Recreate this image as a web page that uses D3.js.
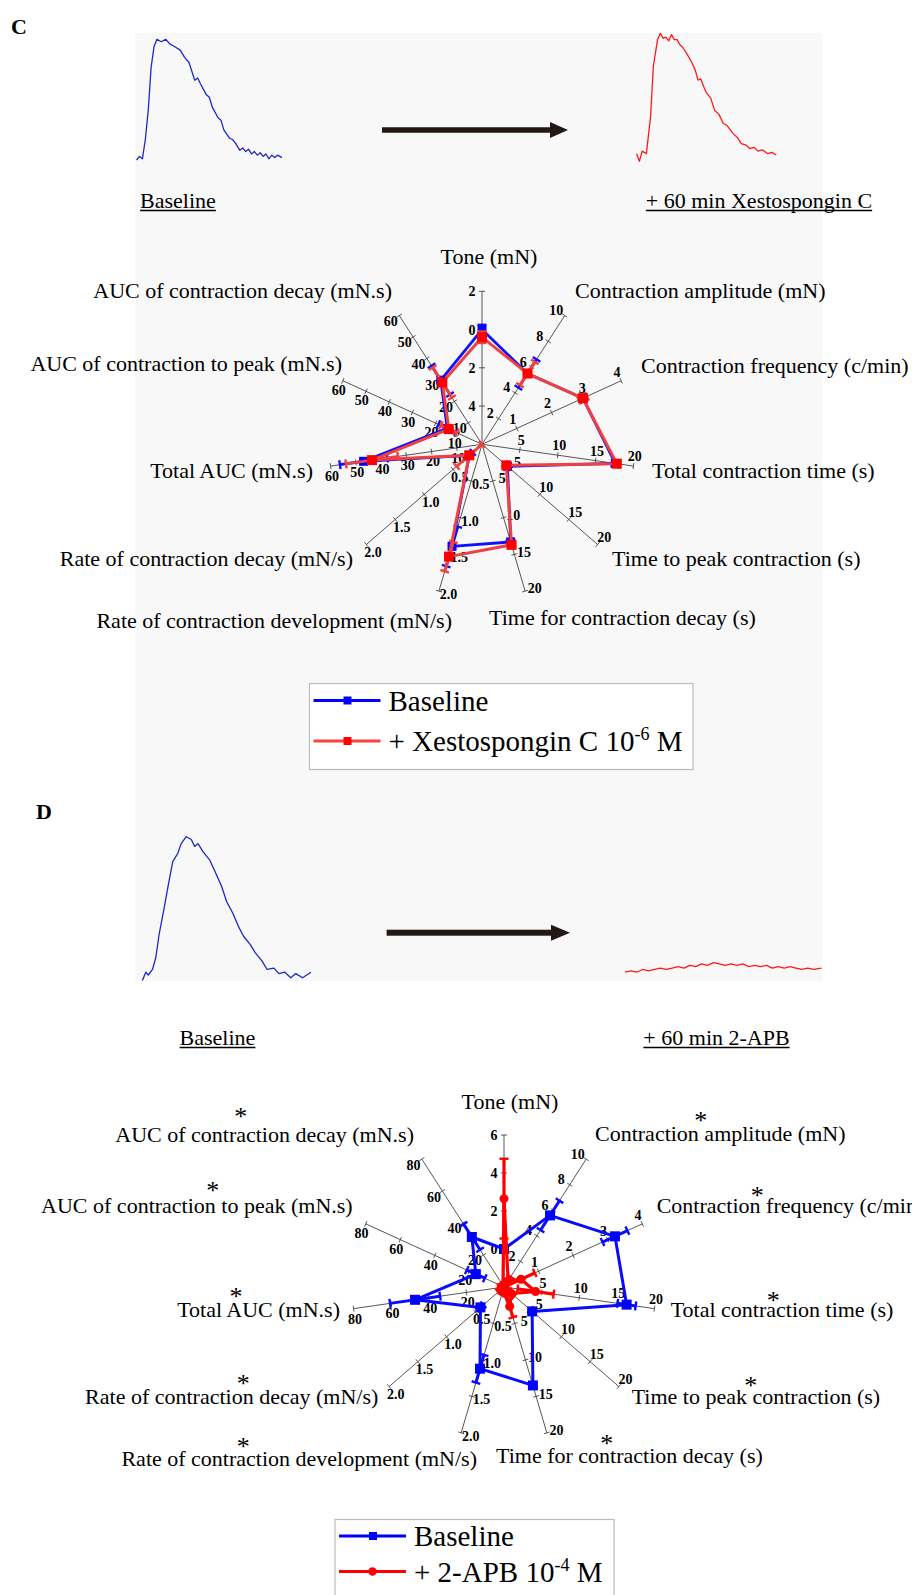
<!DOCTYPE html>
<html><head><meta charset="utf-8">
<script src="https://cdn.jsdelivr.net/npm/d3@7"></script>
<style>
body{margin:0;background:#fff;}
text{font-family:"Liberation Serif","Times New Roman",serif;fill:#000;}
</style>
</head><body>
<svg id="fig" width="912" height="1595"></svg>
<script>
// ---------------- DATA ----------------
const axisNames = ["Tone (mN)","Contraction amplitude (mN)","Contraction frequency (c/min)",
  "Total contraction time (s)","Time to peak contraction (s)","Time for contraction decay (s)",
  "Rate of contraction development (mN/s)","Rate of contraction decay (mN/s)","Total AUC (mN.s)",
  "AUC of contraction to peak (mN.s)","AUC of contraction decay (mN.s)"];

// Panel C axes (value at centre -> value at outer end)
const cDomains = [[6,-2],[0,10],[0,4],[0,20],[0,20],[0,20],[0,2],[0,2],[0,60],[0,60],[0,60]];
const cTicks = [[4,2,0,-2],[2,4,6,8,10],[1,2,3,4],[5,10,15,20],[5,10,15,20],[5,10,15,20],
  [0.5,1,1.5,2],[0.5,1,1.5,2],[10,20,30,40,50,60],[10,20,30,40,50,60],[10,20,30,40,50,60]];
const cTickLabels = [["4","2","0","2"],["2","4","6","8","10"],["1","2","3","4"],["5","10","15","20"],
  ["5","10","15","20"],["5","10","15","20"],["0.5","1.0","1.5","2.0"],["0.5","1.0","1.5","2.0"],
  ["10","20","30","40","50","60"],["10","20","30","40","50","60"],["10","20","30","40","50","60"]];
const cBaseline    = [0.0, 5.5, 2.9, 17.6, 4.4, 13.3, 1.39, 0.22, 46.9, 15.0, 29.9];
const cBaselineErr = [0.25, 1.1, 0.1, 0.4, 0.3, 0.3, 0.27, 0.06, 9.4, 3.8, 6.7];
const cXesto       = [0.4, 5.5, 2.9, 17.8, 4.2, 13.7, 1.53, 0.22, 43.6, 14.3, 28.8];
const cXestoErr    = [0.3, 0.9, 0.12, 0.4, 0.3, 0.3, 0.2, 0.22, 10.3, 3.5, 7.0];

// Panel D axes
const dDomains = [[-2,6],[0,10],[0,4],[0,20],[0,20],[0,20],[0,2],[0,2],[0,80],[0,80],[0,80]];
const dTicks = [[0,2,4,6],[2,4,6,8,10],[1,2,3,4],[5,10,15,20],[5,10,15,20],[5,10,15,20],
  [0.5,1,1.5,2],[0.5,1,1.5,2],[20,40,60,80],[20,40,60,80],[20,40,60,80]];
const dTickLabels = [["0","2","4","6"],["2","4","6","8","10"],["1","2","3","4"],["5","10","15","20"],
  ["5","10","15","20"],["5","10","15","20"],["0.5","1.0","1.5","2.0"],["0.5","1.0","1.5","2.0"],
  ["20","40","60","80"],["20","40","60","80"],["20","40","60","80"]];
const dBaseline    = [0.0, 5.6, 3.21, 16.3, 4.9, 13.5, 1.12, 0.41, 47.3, 16.3, 31.3];
const dBaselineErr = [0.2, 1.15, 0.36, 1.2, 0.3, 0.3, 0.19, 0.05, 13.3, 5.2, 8.0];
const dAPB         = [2.65, 0.5, 0.49, 4.2, 1.3, 2.65, 0.05, 0.05, 1.5, 1.0, 1.0];
const dAPBErr      = [2.1, 0.3, 0.4, 2.4, 0.5, 1.5, 0.05, 0.05, 1.5, 1.0, 1.0];

// Example force traces (time in % of window, force in % of baseline peak)
const cBaseTraceT = [0,2,4,6,8,10,12,14,17,20,23,26,30,33,36,40,42,44,48,50,52,56,58,60,64,66,68,71,73,75,77,79,81,83,85,87,89,91,93,95,97,100];
const cBaseTraceV = [0,3,1,17,41,77,94,100,98,100,96,94,91,85,81,66,68,63,54,52,44,35,33,25,18,17,14,8,10,7,9,5,7,4,6,3,5,1,4,2,4,2];
const cXestoTraceT = [0,2,4,7,10,12,15,17,19,21,23,25,27,29,31,33,36,40,42,44,46,48,50,53,56,59,62,65,69,72,75,78,81,84,87,90,94,97,100];
const cXestoTraceV = [5,-1,7,5,34,74,95,100,96,97,94,99,95,95,91,89,84,76,71,63,64,58,53,49,39,36,29,27,21,18,13,12,9,10,7,8,5,6,4];
const dBaseTraceT = [0,2,3.5,6,8,10,13,15.5,18,21,23,26,29,31,33,36,40,43,47,50,53.5,57,60,64,67,71,74,78,81,84.5,88,91,95,100];
const dBaseTraceV = [-4,2,0,4,13,30,49,66,82,88,95,100,98,93,95,89,83,75,64,53,45,35,28,22,16,10,4,5,1,2,-2,1,-2,2];
const dAPBTraceT = [0,3,6,9,12,15,18,21,24,27,30,33,36,39,42,45,48,51,54,57,60,63,66,69,72,75,78,81,84,87,90,93,96,100];
const dAPBTraceV = [2,3,2,4,3,4,5,4,5,6,5,7,6,8,7,9,8,7,8,7,8,6,7,6,7,5,6,5,6,5,4,5,4,5];

// ---------------- DRAWING ----------------
const svg = d3.select("#fig");
svg.append("rect").attr("x",135).attr("y",33).attr("width",687).attr("height",948).attr("fill","#f8f8f8");

function drawTrace(tArr, vArr, box, color){
  const x = d3.scaleLinear().domain([0,100]).range([box.x0, box.x1]);
  const y = d3.scaleLinear().domain([0,100]).range([box.yb, box.yt]);
  const line = d3.line().x((d,i)=>x(tArr[i])).y((d,i)=>y(vArr[i]));
  svg.append("path").attr("d", line(vArr)).attr("fill","none").attr("stroke",color)
    .attr("stroke-width",1.3).attr("stroke-linejoin","round");
}
function drawArrow(x0,x1,y,th,hw,hl){
  svg.append("rect").attr("x",x0).attr("y",y-th/2).attr("width",x1-hl-x0+1).attr("height",th).attr("fill","#231815");
  svg.append("path").attr("d",`M${x1-hl},${y-hw}L${x1},${y}L${x1-hl},${y+hw}Z`).attr("fill","#231815");
}
function underlined(x,y,txt,size){
  const t = svg.append("text").attr("x",x).attr("y",y).attr("text-anchor","middle")
    .style("font-size",size+"px").text(txt);
  const bb = t.node().getBBox();
  svg.append("line").attr("x1",bb.x).attr("x2",bb.x+bb.width).attr("y1",y+2.5).attr("y2",y+2.5)
    .attr("stroke","#000").attr("stroke-width",1.3);
}

function radar(cx, cy, R, domains, ticks, tickLabels, series){
  const g = svg.append("g");
  const n = domains.length;
  const ang = i => i*2*Math.PI/n;
  const scales = domains.map(d => d3.scaleLinear().domain(d).range([0,R]).clamp(true));
  const pt = (i,v) => { const r = scales[i](v), a = ang(i); return [cx + r*Math.sin(a), cy - r*Math.cos(a)]; };
  for(let i=0;i<n;i++){
    const a = ang(i), end = pt(i, domains[i][1]);
    g.append("line").attr("x1",cx).attr("y1",cy).attr("x2",end[0]).attr("y2",end[1])
      .attr("stroke","#444").attr("stroke-width",0.9);
    const px = Math.cos(a), py = Math.sin(a);
    ticks[i].forEach((t,k)=>{
      const p = pt(i,t);
      g.append("line").attr("x1",p[0]-3*px).attr("y1",p[1]-3*py).attr("x2",p[0]+3*px).attr("y2",p[1]+3*py)
        .attr("stroke","#444").attr("stroke-width",0.9);
      g.append("text").attr("x",p[0]-10*px).attr("y",p[1]-10*py+5).attr("text-anchor","middle")
        .style("font-size","14px").style("font-weight","bold").text(tickLabels[i][k]);
    });
  }
  series.forEach(s=>{
    const pts = s.values.map((v,i)=>pt(i,v));
    g.append("path").attr("d", d3.line().curve(d3.curveLinearClosed)(pts)).attr("fill","none")
      .attr("stroke",s.lineColor).attr("stroke-width",s.lw).attr("stroke-linejoin","round");
    s.values.forEach((v,i)=>{
      const a = ang(i), px = Math.cos(a), py = Math.sin(a);
      const dir = domains[i][1]>domains[i][0]?1:-1;
      const lo = pt(i, v - dir*s.errors[i]);
      const hi = pt(i, v + dir*s.errors[i]);
      g.append("line").attr("x1",lo[0]).attr("y1",lo[1]).attr("x2",hi[0]).attr("y2",hi[1])
        .attr("stroke",s.lineColor).attr("stroke-width",s.lw);
      [lo,hi].forEach(p=>{
        g.append("line").attr("x1",p[0]-4.5*px).attr("y1",p[1]-4.5*py).attr("x2",p[0]+4.5*px).attr("y2",p[1]+4.5*py)
          .attr("stroke",s.lineColor).attr("stroke-width",2.4);
      });
    });
    pts.forEach(p=>{
      if(s.marker==="square"){
        g.append("rect").attr("x",p[0]-s.ms/2).attr("y",p[1]-s.ms/2).attr("width",s.ms).attr("height",s.ms).attr("fill",s.color);
      } else {
        g.append("circle").attr("cx",p[0]).attr("cy",p[1]).attr("r",s.ms/2).attr("fill",s.color);
      }
    });
  });
}

function axisLabels(layout){
  layout.forEach((L,i)=>{
    svg.append("text").attr("x",L[0]).attr("y",L[1]+7).attr("text-anchor",L[2])
      .style("font-size","22px").text(axisNames[i]);
    if(L[3]!==undefined){
      svg.append("text").attr("x",L[3]).attr("y",L[4]+12).attr("text-anchor","middle")
        .style("font-size","26px").text("*");
    }
  });
}

function legend(x,y,w,h,rows){
  svg.append("rect").attr("x",x).attr("y",y).attr("width",w).attr("height",h).attr("fill","#fff")
    .attr("stroke","#bbb").attr("stroke-width",1.2);
  rows.forEach(r=>{
    svg.append("line").attr("x1",x+4).attr("x2",x+71).attr("y1",r.y).attr("y2",r.y)
      .attr("stroke",r.lineColor).attr("stroke-width",3);
    if(r.marker==="square") svg.append("rect").attr("x",x+34).attr("y",r.y-4).attr("width",8).attr("height",8).attr("fill",r.color);
    else svg.append("circle").attr("cx",x+37.5).attr("cy",r.y).attr("r",4.2).attr("fill",r.color);
    const t = svg.append("text").attr("x",x+79).attr("y",r.y+10).style("font-size","29px");
    r.parts.forEach(p=>{
      if(p.sup) t.append("tspan").attr("dy",-11).style("font-size","18px").text(p.t);
      else if(p.after) t.append("tspan").attr("dy",11).text(p.t);
      else t.append("tspan").text(p.t);
    });
  });
}

// ---- Panel C ----
svg.append("text").attr("x",11).attr("y",34).style("font-size","22px").style("font-weight","bold").text("C");
drawTrace(cBaseTraceT, cBaseTraceV, {x0:136.6,x1:282,yb:160,yt:39.3}, "#1c28c8");
drawTrace(cXestoTraceT, cXestoTraceV, {x0:636.6,x1:776.2,yb:160,yt:33.3}, "#ff1a1a");
drawArrow(382,568,130,5.5,8,18);
underlined(178,208,"Baseline",22);
underlined(759,208,"+ 60 min Xestospongin C",22);

radar(482, 444.3, 153, cDomains, cTicks, cTickLabels, [
  {values:cBaseline, errors:cBaselineErr, color:"#0000ff", lineColor:"#1010ff", lw:2.8, marker:"square", ms:9},
  {values:cXesto, errors:cXestoErr, color:"#ff0000", lineColor:"#f04040", lw:3, marker:"square", ms:10}
]);
axisLabels([
  [489,257,"middle"],[575,291,"start"],[641,366,"start"],[652,471,"start"],[612,559,"start"],
  [489,618,"start"],[452,621,"end"],[353,559,"end"],[313,471,"end"],[342,364,"end"],[392,291,"end"]
]);
legend(309.5,683.5,383.5,86,[
  {y:700.5,color:"#0000ff",lineColor:"#0000ff",marker:"square",parts:[{t:"Baseline"}]},
  {y:741,color:"#ff0000",lineColor:"#ff4040",marker:"square",parts:[{t:"+ Xestospongin C 10"},{t:"-6",sup:true},{t:" M",after:true}]}
]);

// ---- Panel D ----
svg.append("text").attr("x",36).attr("y",819).style("font-size","22px").style("font-weight","bold").text("D");
drawTrace(dBaseTraceT, dBaseTraceV, {x0:142.4,x1:311,yb:975,yt:836.7}, "#1c28c8");
drawTrace(dAPBTraceT, dAPBTraceV, {x0:625,x1:821.5,yb:975,yt:836.7}, "#ff1a1a");
drawArrow(386.6,570,932.7,6,8,19);
underlined(217.5,1045,"Baseline",22);
underlined(716.5,1045,"+ 60 min 2-APB",22);

radar(504, 1287, 152, dDomains, dTicks, dTickLabels, [
  {values:dBaseline, errors:dBaselineErr, color:"#0000ff", lineColor:"#0a0aff", lw:3, marker:"square", ms:10},
  {values:dAPB, errors:dAPBErr, color:"#ff0000", lineColor:"#ff0000", lw:3.2, marker:"circle", ms:9}
]);
axisLabels([
  [510,1102,"middle"],
  [595,1134,"start",700.7,1117],[656.7,1206,"start",757.3,1191.7],[670.7,1310,"start",773.3,1296.7],
  [631.7,1397,"start",750.7,1381.7],[496,1456,"start",606.7,1440],[477,1459,"end",243.3,1443.3],
  [378.3,1397,"end",243.3,1380],[340,1310,"end",236,1293.3],[352.7,1206,"end",212.7,1187.3],
  [414,1135,"end",240.7,1113.3]
]);
legend(335,1519.5,279,85,[
  {y:1536,color:"#0000ff",lineColor:"#0000ff",marker:"square",parts:[{t:"Baseline"}]},
  {y:1571.5,color:"#ff0000",lineColor:"#ff0000",marker:"circle",parts:[{t:"+ 2-APB 10"},{t:"-4",sup:true},{t:" M",after:true}]}
]);
</script>
</body></html>
